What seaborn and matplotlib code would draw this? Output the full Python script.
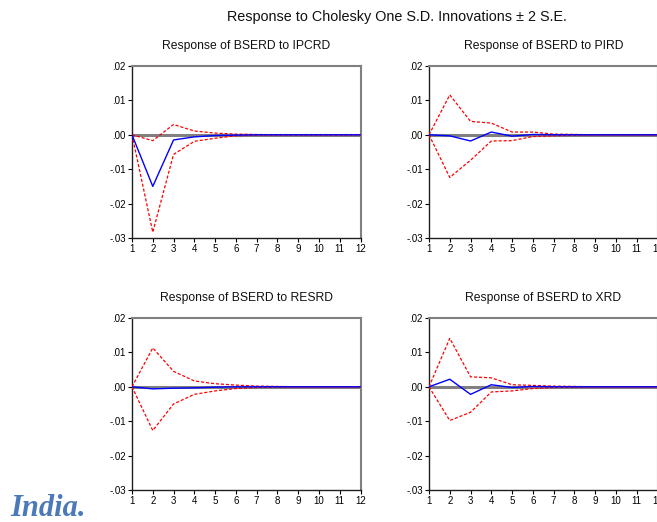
import numpy as np
import pandas as pd
import matplotlib
matplotlib.use("Agg")
import matplotlib.pyplot as plt
import seaborn as sns

sns.set_theme(style="white")
plt.rcParams['font.family'] = ['Liberation Sans', 'DejaVu Sans']

periods = list(range(1, 13))

titles = ["Response of BSERD to IPCRD", "Response of BSERD to PIRD",
          "Response of BSERD to RESRD", "Response of BSERD to XRD"]

resp_ipcrd = [0.0, -0.0150, -0.0015, -0.0006, -0.0002, -0.0001, 0, 0, 0, 0, 0, 0]
up_ipcrd   = [0.0, -0.0017, 0.0030, 0.0011, 0.0005, 0.0002, 0.0001, 0, 0, 0, 0, 0]
lo_ipcrd   = [0.0, -0.0283, -0.0057, -0.0019, -0.0010, -0.0003, -0.0001, 0, 0, 0, 0, 0]

resp_pird = [0.0, -0.0003, -0.0018, 0.0008, -0.0004, 0.0001, 0, 0, 0, 0, 0, 0]
up_pird   = [0.0, 0.0116, 0.0039, 0.0034, 0.0008, 0.0008, 0.0002, 0.0001, 0, 0, 0, 0]
lo_pird   = [0.0, -0.0124, -0.0074, -0.0018, -0.0017, -0.0005, -0.0003, -0.0001, 0, 0, 0, 0]

resp_resrd = [0.0, -0.0006, -0.0004, -0.0003, -0.0001, 0, 0, 0, 0, 0, 0, 0]
up_resrd   = [0.0, 0.0113, 0.0045, 0.0017, 0.0009, 0.0005, 0.0002, 0.0001, 0, 0, 0, 0]
lo_resrd   = [0.0, -0.0127, -0.0050, -0.0022, -0.0012, -0.0005, -0.0002, -0.0001, 0, 0, 0, 0]

resp_xrd = [0.0, 0.0022, -0.0022, 0.0006, -0.0002, 0.0001, 0, 0, 0, 0, 0, 0]
up_xrd   = [0.0, 0.0141, 0.0029, 0.0026, 0.0006, 0.0004, 0.0002, 0.0001, 0, 0, 0, 0]
lo_xrd   = [0.0, -0.0098, -0.0074, -0.0015, -0.0012, -0.0005, -0.0002, -0.0001, 0, 0, 0, 0]

yticks = [0.02, 0.01, 0.00, -0.01, -0.02, -0.03]
ytick_labels = [".02", ".01", ".00", "-.01", "-.02", "-.03"]

panels = [(resp_ipcrd, up_ipcrd, lo_ipcrd), (resp_pird, up_pird, lo_pird),
          (resp_resrd, up_resrd, lo_resrd), (resp_xrd, up_xrd, lo_xrd)]

W, H = 657, 522
fig = plt.figure(figsize=(W / 100, H / 100), dpi=100)
fig.patch.set_facecolor("white")

# axes boxes in pixels: (left, top, right, bottom)
boxes = [(132, 66, 360.5, 238), (429, 66, 657.5, 238),
         (132, 318, 360.5, 490), (429, 318, 657.5, 490)]

for (resp, up, lo), title, (l, t, r, b) in zip(panels, titles, boxes):
    ax = fig.add_axes([l / W, 1 - b / H, (r - l) / W, (b - t) / H])
    ax.set_facecolor("white")
    ax.axhline(0, color="#808080", lw=2.2, zorder=1)
    df = pd.DataFrame({"period": periods, "resp": resp, "up": up, "lo": lo})
    sns.lineplot(data=df, x="period", y="up", ax=ax, color="red", lw=0.9,
                 linestyle=(0, (2.5, 1.5)), zorder=3)
    sns.lineplot(data=df, x="period", y="lo", ax=ax, color="red", lw=0.9,
                 linestyle=(0, (2.5, 1.5)), zorder=3)
    sns.lineplot(data=df, x="period", y="resp", ax=ax, color="blue", lw=1.0, zorder=4)
    ax.set_xlim(1, 12)
    ax.set_ylim(-0.03, 0.02)
    ax.set_xticks(periods)
    ax.set_xticklabels([str(p) for p in periods], fontsize=7)
    ax.set_yticks(yticks)
    ax.set_yticklabels(ytick_labels, fontsize=7)
    ax.set_xlabel("")
    ax.set_ylabel("")
    ax.tick_params(axis="both", direction="out", length=3, width=0.8, pad=1.5,
                   colors="black", bottom=True, left=True)
    for side in ["left", "bottom"]:
        ax.spines[side].set_color("#202020")
        ax.spines[side].set_linewidth(1.0)
    for side in ["top", "right"]:
        ax.spines[side].set_color("#808080")
        ax.spines[side].set_linewidth(1.5)
    ax.set_title(title, fontsize=8.7, pad=12, color="#111111")

fig.text(397 / W, 1 - 17 / H, "Response to Cholesky One S.D. Innovations \u00b1 2 S.E.",
         ha="center", va="center", fontsize=10.4, color="#111111")
fig.text(10 / W, 1 - 508 / H, "India.", ha="left", va="center", fontsize=22,
         family="Liberation Serif", style="italic", weight="bold", color="#4a7ab8")

fig.savefig("out.png", dpi=100)
